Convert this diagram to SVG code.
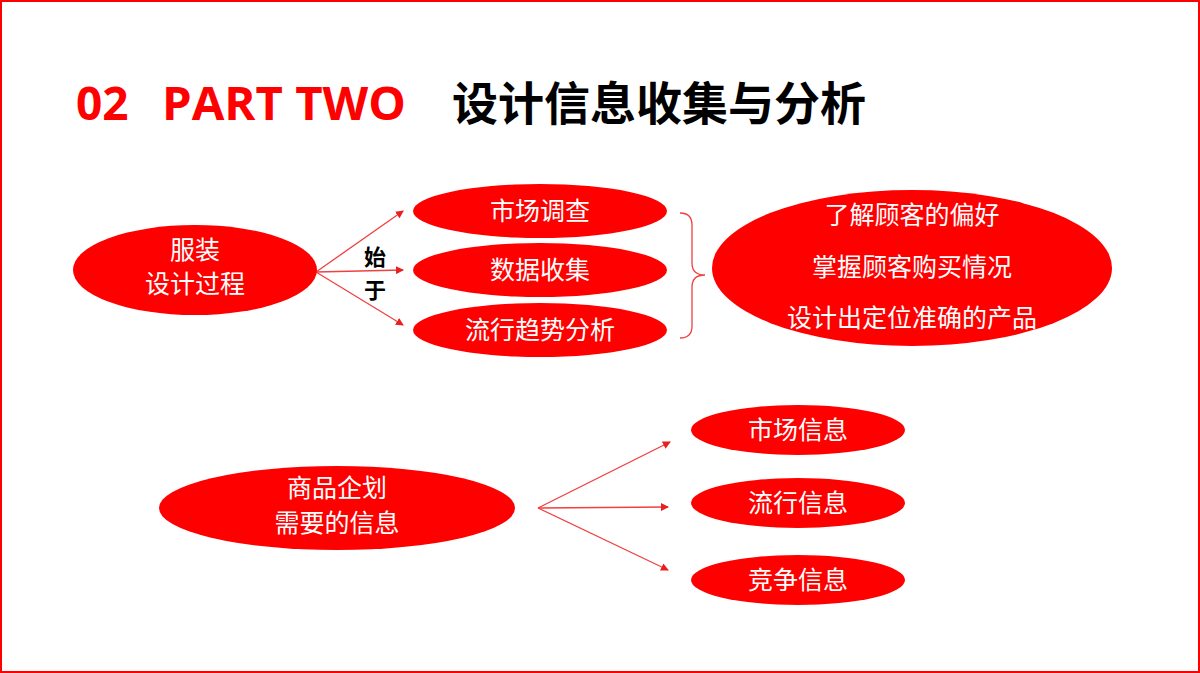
<svg xmlns="http://www.w3.org/2000/svg" width="1200" height="673" viewBox="0 0 1200 673">
<defs>
<style>
.n{fill:#ff0000}
.t{fill:#fff;font-family:"Noto Sans CJK SC",sans-serif;font-size:25px;text-anchor:middle}
.c{stroke:#f04040;stroke-width:1.3;fill:none}
</style>
<marker id="a" markerWidth="8" markerHeight="8" refX="7" refY="4" orient="auto" markerUnits="userSpaceOnUse"><path d="M0,0L8,4L0,8z" fill="#e82020"/></marker>
</defs>
<rect x="1" y="1" width="1198" height="671" fill="#fff" stroke="#ff0000" stroke-width="2"/>
<text x="76" y="120" font-family="Open Sans, sans-serif" font-weight="bold" font-size="46" fill="#ff0000">02</text>
<text x="162" y="120" font-family="Open Sans, sans-serif" font-weight="bold" font-size="46" fill="#ff0000" textLength="244" lengthAdjust="spacingAndGlyphs">PART TWO</text>
<text x="452" y="120" font-family="Noto Sans CJK SC, sans-serif" font-weight="bold" font-size="46" fill="#000">设计信息收集与分析</text>
<g id="connectors">
<path class="c" d="M316,272L403,211" marker-end="url(#a)"/>
<path class="c" d="M316,272L403,270" marker-end="url(#a)"/>
<path class="c" d="M316,272L403,325" marker-end="url(#a)"/>
<path class="c" d="M538,508L670,442" marker-end="url(#a)"/>
<path class="c" d="M538,508L668,507" marker-end="url(#a)"/>
<path class="c" d="M538,508L668,570" marker-end="url(#a)"/>
<path class="c" d="M680,213Q692,213 692,225L692,263Q692,275 705,275Q692,275 692,287L692,326Q692,338 680,338"/>
</g>
<text x="375" y="265" font-family="Noto Sans CJK SC, sans-serif" font-weight="bold" font-size="22" text-anchor="middle">始</text>
<text x="375" y="298" font-family="Noto Sans CJK SC, sans-serif" font-weight="bold" font-size="22" text-anchor="middle">于</text>
<g id="n1"><ellipse class="n" cx="195" cy="270" rx="122" ry="45"/><text class="t" x="195" y="259">服装</text><text class="t" x="195" y="293">设计过程</text></g>
<g id="n2"><ellipse class="n" cx="540" cy="211" rx="127" ry="27"/><text class="t" x="540" y="220">市场调查</text></g>
<g id="n3"><ellipse class="n" cx="540" cy="270" rx="127" ry="27"/><text class="t" x="540" y="279">数据收集</text></g>
<g id="n4"><ellipse class="n" cx="540" cy="330" rx="127" ry="27"/><text class="t" x="540" y="339">流行趋势分析</text></g>
<g id="n5"><ellipse class="n" cx="912" cy="268" rx="200" ry="78"/><text class="t" x="912" y="224">了解顾客的偏好</text><text class="t" x="912" y="276">掌握顾客购买情况</text><text class="t" x="912" y="327">设计出定位准确的产品</text></g>
<g id="n6"><ellipse class="n" cx="337" cy="508" rx="178" ry="42"/><text class="t" x="337" y="497">商品企划</text><text class="t" x="337" y="532">需要的信息</text></g>
<g id="n7"><ellipse class="n" cx="798" cy="430" rx="107" ry="25"/><text class="t" x="798" y="439">市场信息</text></g>
<g id="n8"><ellipse class="n" cx="798" cy="503" rx="107" ry="25"/><text class="t" x="798" y="512">流行信息</text></g>
<g id="n9"><ellipse class="n" cx="798" cy="580" rx="107" ry="25"/><text class="t" x="798" y="589">竞争信息</text></g>
</svg>
